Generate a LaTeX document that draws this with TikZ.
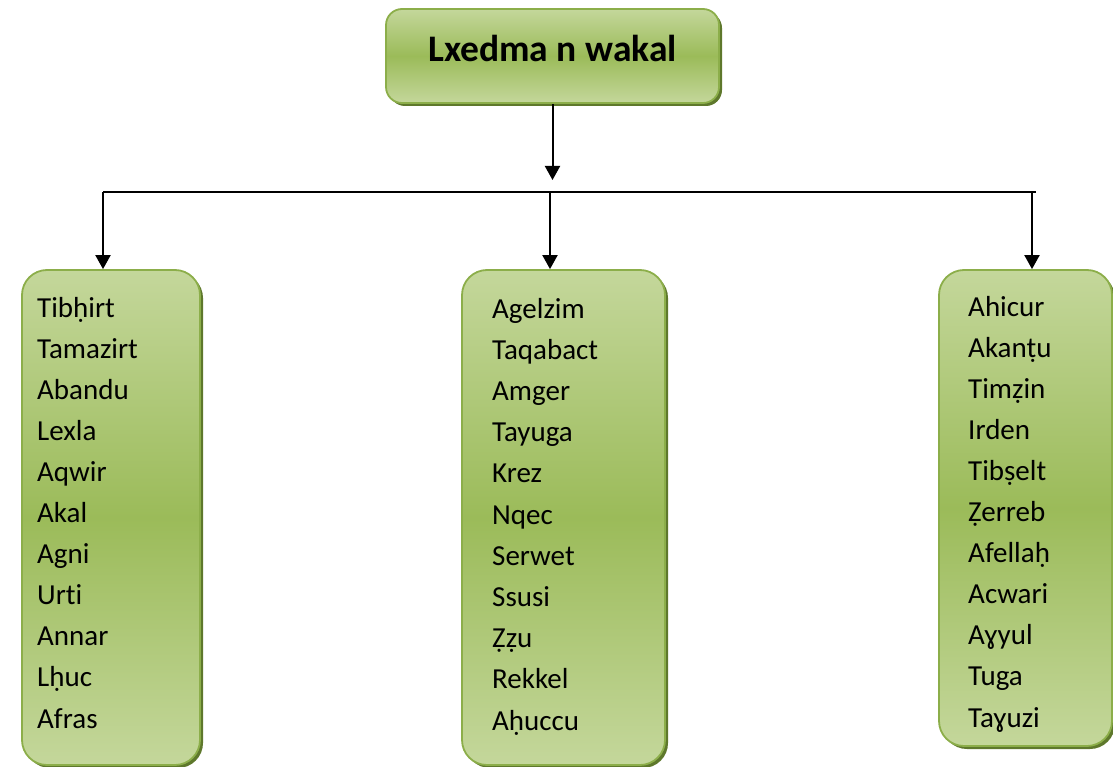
\documentclass[tikz,border=0pt]{standalone}
\usepackage{fontspec}
\setmainfont{Carlito}[Ligatures=NoCommon]
\usetikzlibrary{arrows.meta,shadows}

\definecolor{leaflight}{RGB}{196,215,155}
\definecolor{leafmid}{RGB}{155,187,89}
\definecolor{leafedge}{RGB}{140,174,74}
\definecolor{leafshadow}{RGB}{94,120,44}

\tikzset{
  greenbox/.style={draw=leafedge, line width=1.8pt, rounded corners=#1,
    top color=leaflight, bottom color=leaflight, middle color=leafmid,
    drop shadow={shadow xshift=3pt, shadow yshift=-3pt, fill=leafshadow, opacity=1},
    inner sep=0pt},
  greenbox/.default=25pt,
  item/.style={font=\fontsize{29}{35}\selectfont, inner sep=0pt, anchor=base west},
  headline/.style={font=\fontsize{37.5}{40}\selectfont\bfseries, inner sep=0pt, anchor=base},
  link/.style={line width=2pt},
  arr/.style={link, -{Triangle[width=15pt,length=14pt]}}
}

\begin{document}
\begin{tikzpicture}[x=1pt,y=-1pt]
\useasboundingbox (0,0) rectangle (1113,767);

% heading box
\node[greenbox=16pt, minimum width=333pt, minimum height=94pt] (head) at (552.5,56) {};
\node[headline] (title) at (552.5,62) {Lxedma n wakal};

% the three word lists
\node[greenbox, minimum width=178pt, minimum height=495pt] (lbox) at (111,517.5) {};
\node[greenbox, minimum width=203pt, minimum height=495pt] (mbox) at (563.5,517.5) {};
\node[greenbox, minimum width=173pt, minimum height=476pt] (rbox) at (1025.5,508) {};

\foreach \w [count=\i] in {Tibḥirt, Tamazirt, Abandu, Lexla, Aqwir, Akal, Agni, Urti, Annar, Lḥuc, Afras}
  \node[item] (L\i) at (37,{317+41.1*(\i-1)}) {\w};
\foreach \w [count=\i] in {Agelzim, Taqabact, Amger, Tayuga, Krez, Nqec, Serwet, Ssusi, Ẓẓu, Rekkel, Aḥuccu}
  \node[item] (M\i) at (492,{318+41.2*(\i-1)}) {\w};
\foreach \w [count=\i] in {Ahicur, Akanṭu, Timẓin, Irden, Tibṣelt, Ẓerreb, Afellaḥ, Acwari, Aɣyul, Tuga, Taɣuzi}
  \node[item] (R\i) at (968,{316+41.1*(\i-1)}) {\w};

% connectors
\coordinate (hub) at (552.5,180);
\coordinate (barL) at (103,192);
\coordinate (barM) at (550,192);
\coordinate (barR) at (1036,192);
\coordinate (barRdrop) at (1032,192);

\draw[arr] (head.south) -- (hub);
\draw[link] (barL) -- (barR);
\draw[arr] (barL) -- (barL |- lbox.north);
\draw[arr] (barM) -- (barM |- mbox.north);
\draw[arr] (barRdrop) -- (barRdrop |- rbox.north);
\end{tikzpicture}
\end{document}
